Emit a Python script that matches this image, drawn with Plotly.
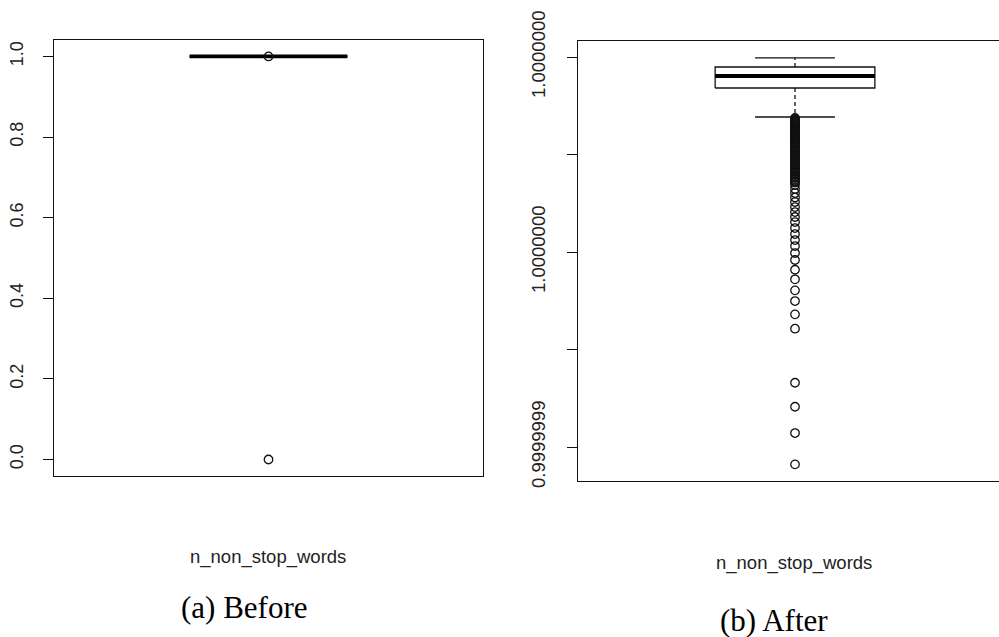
import plotly.graph_objects as go

# ---------------- data ----------------
category = "n_non_stop_words"
captions = ["(a) Before", "(b) After"]

# Before: all quartiles / whiskers collapse at 1.0
before_q1 = 1.0
before_median = 1.0
before_q3 = 1.0
before_lower = 1.0
before_upper = 1.0
before_outliers = [1.0, 0.0]
before_tickvals = [0.0, 0.2, 0.4, 0.6, 0.8, 1.0]
before_ticktext = ["0.0", "0.2", "0.4", "0.6", "0.8", "1.0"]

# After: values expressed as distance below 1, in units of 1e-9
after_upper_e9 = 0.2
after_q3_e9 = 2.05
after_median_e9 = 3.9
after_q1_e9 = 6.36
after_lower_e9 = 12.31
after_outliers_e9 = [
    12.51, 12.72, 12.92, 13.13, 13.33, 13.54, 13.74, 13.95, 14.15, 14.36,
    14.56, 14.77, 14.97, 15.18, 15.38, 15.59, 15.79, 16.00, 16.21, 16.41,
    16.62, 16.82, 17.03, 17.23, 17.44, 17.64, 17.85, 18.05,
    18.36, 18.67, 18.97, 19.28, 19.59, 19.90, 20.21, 20.51, 20.82, 21.13,
    21.44, 21.74, 22.05, 22.36, 22.67, 22.97, 23.28, 23.59, 23.90, 24.21,
    24.51, 24.82, 25.13, 25.44, 25.74,
    26.26, 27.08, 27.90, 28.82, 29.74, 30.77, 31.80, 32.82,
    33.85, 35.08, 36.31, 37.54, 38.77, 40.21, 41.64, 43.63, 45.60, 47.86,
    50.05, 52.78, 55.73, 66.81, 71.73, 77.13, 83.55,
]
after_tick_e9 = [0, 20, 40, 60, 80]
after_ticktext = ["1.0000000", "", "1.0000000", "", "0.9999999"]

E = 1e-9
after_q1 = 1 - after_q1_e9 * E
after_median = 1 - after_median_e9 * E
after_q3 = 1 - after_q3_e9 * E
after_lower = 1 - after_lower_e9 * E
after_upper = 1 - after_upper_e9 * E
after_outliers = [1 - d * E for d in after_outliers_e9]
after_tickvals = [1 - d * E for d in after_tick_e9]

# ---------------- style ----------------
W, H = 999, 637
BOX_W = 0.368
LW = 1.3
INK = "#111111"
SANS = "Liberation Sans, Arial, sans-serif"
SERIF = "Liberation Serif, Times New Roman, serif"

fig = go.Figure()


def add_box(xa, ya, q1, med, q3, lo, hi, outl, center=1.0):
    l, r = center - BOX_W / 2, center + BOX_W / 2
    cl, cr = center - BOX_W / 4, center + BOX_W / 4
    common = dict(xaxis=xa, yaxis=ya, mode="lines", showlegend=False, hoverinfo="skip")
    # whiskers (dashed)
    fig.add_trace(go.Scatter(x=[center, center, None, center, center],
                             y=[q3, hi, None, q1, lo],
                             line=dict(color=INK, width=LW, dash="4px,3px"), **common))
    # caps
    fig.add_trace(go.Scatter(x=[cl, cr, None, cl, cr], y=[hi, hi, None, lo, lo],
                             line=dict(color=INK, width=LW), **common))
    # box
    fig.add_trace(go.Scatter(x=[l, r, r, l, l], y=[q1, q1, q3, q3, q1],
                             line=dict(color=INK, width=LW), **common))
    # median
    fig.add_trace(go.Scatter(x=[l, r], y=[med, med],
                             line=dict(color="black", width=3.8), **common))
    # outliers
    fig.add_trace(go.Scatter(x=[center] * len(outl), y=outl, mode="markers",
                             xaxis=xa, yaxis=ya, showlegend=False, hoverinfo="skip",
                             marker=dict(symbol="circle-open", size=8.5, color=INK,
                                         line=dict(width=1.3, color=INK))))


add_box("x", "y", before_q1, before_median, before_q3, before_lower, before_upper, before_outliers)
add_box("x2", "y2", after_q1, after_median, after_q3, after_lower, after_upper, after_outliers)

axis_common = dict(showgrid=False, zeroline=False, showline=True, linecolor=INK,
                   linewidth=LW, automargin=False)

fig.update_layout(
    width=W, height=H,
    margin=dict(l=0, r=0, t=0, b=0, pad=0, autoexpand=False),
    showlegend=False,
    paper_bgcolor="white", plot_bgcolor="white",
    xaxis=dict(domain=[54 / W, 483 / W], range=[0.5, 1.5], mirror=True,
               showticklabels=False, ticks="", anchor="y", **axis_common),
    yaxis=dict(domain=[1 - 476 / H, 1 - 39.5 / H], range=[-0.041, 1.042], mirror=True,
               tickmode="array", tickvals=before_tickvals, ticktext=before_ticktext,
               tickangle=-90, ticks="outside", ticklen=10, tickwidth=LW, tickcolor=INK,
               ticklabelstandoff=13, tickfont=dict(family=SANS, size=18, color="#222"),
               anchor="x", **axis_common),
    xaxis2=dict(domain=[578 / W, 1.0], range=[0.5, 1.47], mirror=True,
                showticklabels=False, ticks="", anchor="y2", **axis_common),
    yaxis2=dict(domain=[1 - 480.7 / H, 1 - 41.3 / H],
                range=[1 - 86.9 * E, 1 + 3.22 * E], mirror=False,
                tickmode="array", tickvals=after_tickvals, ticktext=after_ticktext,
                tickangle=-90, ticks="outside", ticklen=10, tickwidth=LW, tickcolor=INK,
                ticklabelstandoff=14, tickfont=dict(family=SANS, size=18.5, color="#222"),
                anchor="x2", **axis_common),
)

ann = [
    dict(text=category, x=268 / W, y=1 - 557 / H, font=dict(family=SANS, size=18.5, color="#222")),
    dict(text=category, x=794 / W, y=1 - 563 / H, font=dict(family=SANS, size=18.5, color="#222")),
    dict(text=captions[0], x=244 / W, y=1 - 607 / H, font=dict(family=SERIF, size=31, color="black")),
    dict(text=captions[1], x=774 / W, y=1 - 620 / H, font=dict(family=SERIF, size=31, color="black")),
]
for a in ann:
    fig.add_annotation(xref="paper", yref="paper", showarrow=False,
                       xanchor="center", yanchor="middle", **a)

fig.write_html("out.html")
